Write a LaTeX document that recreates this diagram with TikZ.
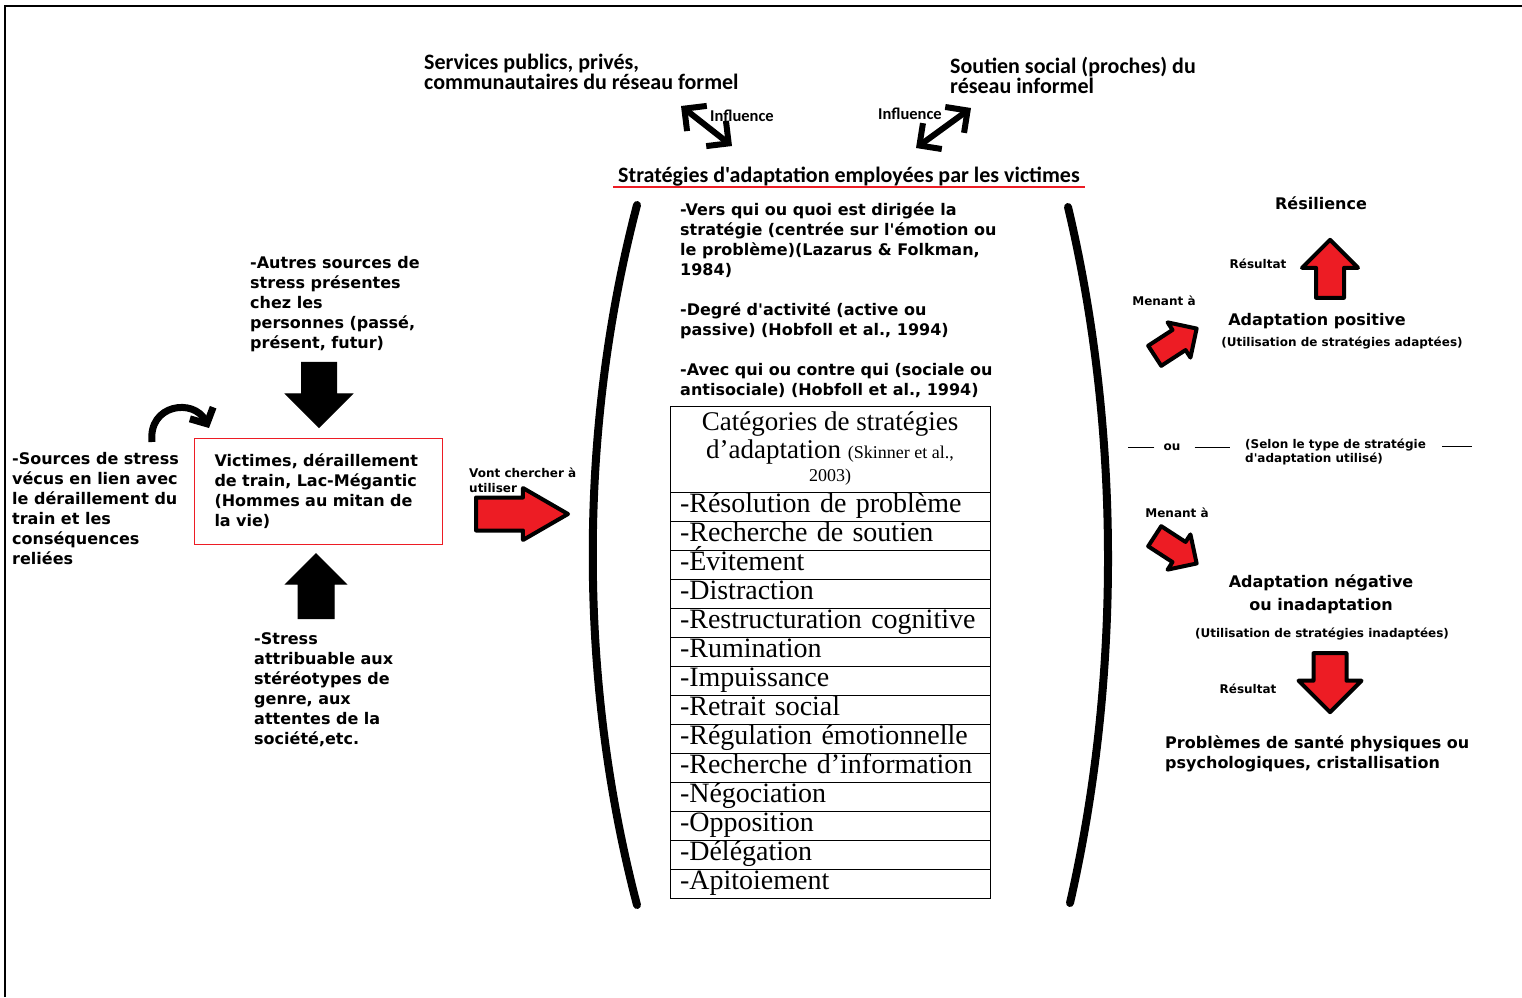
\documentclass[tikz,border=0pt]{standalone}
\usepackage{fontspec}
\usepackage{tikz}
\usetikzlibrary{positioning,shapes.arrows,arrows.meta}
\newfontfamily\verd{DejaVu Sans}[Ligatures=TeXOff]
\newfontfamily\calib{Carlito}[Ligatures=TeXOff]
\newfontfamily\tms{Liberation Serif}
\definecolor{paintred}{HTML}{ED1C24}

\begin{document}
\begin{tikzpicture}[x=1pt,y=-1pt,
  txt/.style={font=\verd\bfseries\fontsize{16}{20}\selectfont,align=left,inner sep=0pt},
  ctxt/.style={txt,align=center},
  lbl/.style={font=\verd\bfseries\fontsize{12}{15}\selectfont,align=left,inner sep=0pt},
  note/.style={font=\verd\bfseries\fontsize{12}{14}\selectfont,align=left,inner sep=0pt},
  ttl/.style={font=\calib\bfseries\fontsize{22}{20}\selectfont,align=left,inner sep=0pt},
  infl/.style={font=\calib\bfseries\fontsize{16.5}{16.5}\selectfont,inner sep=0pt},
  hdr/.style={draw,line width=1pt,outer sep=0pt,minimum width=320pt,inner sep=0pt,align=center,
    font=\tms\fontsize{27}{28}\selectfont},
  row/.style={draw,line width=1pt,outer sep=0pt,minimum width=320pt,minimum height=29pt,
    inner ysep=0pt,inner xsep=10pt,text width=300pt,align=left,
    text height=19pt,text depth=7pt,font=\tms\fontsize{28}{28}\selectfont},
  blkarr/.style={single arrow,draw=black,fill=black,line width=1pt,inner xsep=0pt},
  redarr/.style={single arrow,draw=black,fill=paintred,line width=4pt,inner xsep=0pt,line join=round},
  influ/.style={line width=6pt,<->,>={Straight Barb[length=16pt,width=32pt]}},
  curv/.style={line width=7pt,->,>={Straight Barb[length=12pt,width=26pt]}},
  brack/.style={line width=8pt,line cap=round},
  dashln/.style={line width=1pt}]
\useasboundingbox (0,0) rectangle (1522,997);
% frame
\draw[line width=2pt] (5,997) -- (5,6) -- (1522,6);

% ressources
\node (formel) [ttl,anchor=west] at (424,72) {Services publics, privés,\\communautaires du réseau formel};
\node (informel) [ttl,anchor=west] at (950,75) {Soutien social (proches) du\\réseau informel};
\coordinate (inflA1) at (681,106);
\coordinate (inflA2) at (732,146);
\draw[influ] (inflA1) -- (inflA2);
\node (inflAlbl) [infl] at (742,116) {Influence};
\coordinate (inflB1) at (971,108);
\coordinate (inflB2) at (916,148);
\draw[influ] (inflB1) -- (inflB2);
\node (inflBlbl) [infl] at (910,114) {Influence};

% strategies
\node (strat) [ttl] at (849,177) {Stratégies d'adaptation employées par les victimes};
\draw[paintred,line width=1.5pt] ([xshift=-5pt]strat.south west) -- ([xshift=5pt]strat.south east);
\draw[brack] (637,205) .. controls (578,430) and (578,680) .. (637,905);
\draw[brack] (1068,207) .. controls (1121,430) and (1121,680) .. (1070,903);
\node (dims) [txt,anchor=north west] at (680,202) {-Vers qui ou quoi est dirigée la\\stratégie (centrée sur l'émotion ou\\le problème)(Lazarus \& Folkman,\\1984)\\[20pt]-Degré d'activité (active ou\\passive) (Hobfoll et al., 1994)\\[20pt]-Avec qui ou contre qui (sociale ou\\antisociale) (Hobfoll et al., 1994)};

% table
\node (categ) [hdr,minimum height=86pt,anchor=north west] at (670,406) {Catégories de stratégies\\d’adaptation {\fontsize{18}{18}\selectfont(Skinner et al.,}\\[-5pt]{\fontsize{18}{18}\selectfont 2003)}};
\node (resol) [row,below=0pt of categ] {-Résolution de problème};
\node (soutien) [row,below=0pt of resol] {-Recherche de soutien};
\node (evit) [row,below=0pt of soutien] {-Évitement};
\node (distr) [row,below=0pt of evit] {-Distraction};
\node (restr) [row,below=0pt of distr] {-Restructuration cognitive};
\node (rumin) [row,below=0pt of restr] {-Rumination};
\node (impuis) [row,below=0pt of rumin] {-Impuissance};
\node (retrait) [row,below=0pt of impuis] {-Retrait social};
\node (regul) [row,below=0pt of retrait] {-Régulation émotionnelle};
\node (info) [row,below=0pt of regul] {-Recherche d’information};
\node (negoc) [row,below=0pt of info] {-Négociation};
\node (oppos) [row,below=0pt of negoc] {-Opposition};
\node (deleg) [row,below=0pt of oppos] {-Délégation};
\node (apit) [row,below=0pt of deleg] {-Apitoiement};

% victimes
\node (victimes) [txt,draw=paintred,line width=1pt,minimum width=248pt,minimum height=106pt,text width=208pt,inner xsep=20pt,anchor=north west] at (194,438) {Victimes, déraillement\\de train, Lac-Mégantic\\(Hommes au mitan de\\la vie)};
\node (autres) [txt,anchor=west] at (250,304) {-Autres sources de\\stress présentes\\chez les\\personnes (passé,\\présent, futur)};
\node (stereo) [txt,anchor=west] at (254,690) {-Stress\\attribuable aux\\stéréotypes de\\genre, aux\\attentes de la\\société,etc.};
\node (sources) [txt,anchor=west] at (12,509) {-Sources de stress\\vécus en lien avec\\le déraillement du\\train et les\\conséquences\\reliées};
\node (downarr) [blkarr,rotate=-90,minimum height=65pt,inner ysep=17pt,single arrow head extend=16pt,anchor=tip] at (319,428) {};
\node (uparr) [blkarr,rotate=90,minimum height=65pt,inner ysep=17.5pt,single arrow head extend=12.5pt,anchor=tip] at (316,553) {};
\coordinate (curvA) at (152,442);
\coordinate (curvB) at (209,428);
\draw[curv] (curvA) .. controls (148,404) and (194,398) .. (curvB);
\node (vont) [lbl,anchor=west] at (469,480) {Vont chercher à\\utiliser};
\node (versstrat) [redarr,minimum height=92pt,inner ysep=14.5pt,single arrow head extend=9.5pt,single arrow tip angle=60,anchor=tip] at (572,514) {};

% issues
\node (resil) [txt] at (1321,203) {Résilience};
\node (resarr) [redarr,rotate=90,minimum height=58pt,inner ysep=12pt,single arrow head extend=14pt,anchor=tip] at (1330,237) {};
\node (result1) [lbl] at (1258,264) {Résultat};
\node (menant1) [lbl] at (1164,301) {Menant à};
\node (posarr) [redarr,rotate=33,minimum height=50pt,inner ysep=10pt,single arrow head extend=9pt,anchor=tip] at (1199,327) {};
\node (adpos) [txt] at (1317,321) {Adaptation positive};
\node (adposut) [note] at (1342,343) {(Utilisation de stratégies adaptées)};

\node (ou) [note] at (1172,447) {ou};
\node (selon) [note,anchor=north west] at (1245,439) {(Selon le type de stratégie\\d'adaptation utilisé)};
\draw[dashln] ([xshift=-9pt]ou.west) -- ++(-26,0);
\draw[dashln] ([xshift=14pt]ou.east) -- ++(35,0);
\draw[dashln] ([xshift=16pt,yshift=6pt]selon.east) -- ++(30,0);

\node (menant2) [lbl] at (1177,513) {Menant à};
\node (negarr) [redarr,rotate=-33,minimum height=50pt,inner ysep=10pt,single arrow head extend=9pt,anchor=tip] at (1199,565) {};
\node (adneg) [ctxt] at (1321,594) {Adaptation négative\\[3pt]ou inadaptation};
\node (adnegut) [note] at (1322,634) {(Utilisation de stratégies inadaptées)};
\node (result2) [lbl] at (1248,689) {Résultat};
\node (negdown) [redarr,rotate=-90,minimum height=59pt,inner ysep=14.5pt,single arrow head extend=15pt,anchor=tip] at (1330,715) {};
\node (sante) [txt,anchor=west] at (1165,754) {Problèmes de santé physiques ou\\psychologiques, cristallisation};
\end{tikzpicture}
\end{document}
